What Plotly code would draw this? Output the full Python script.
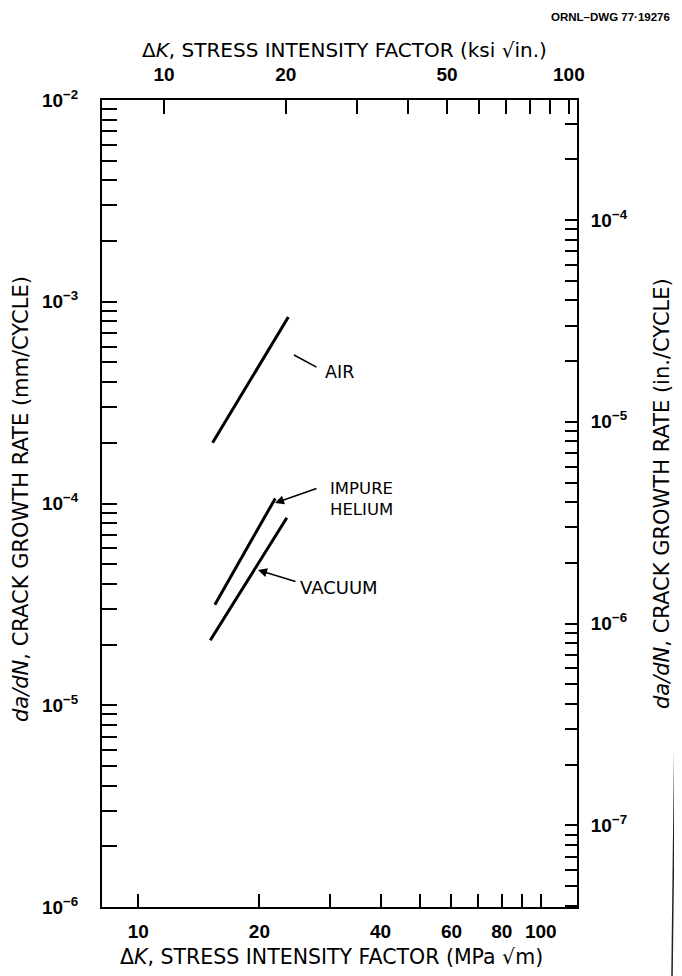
import plotly.graph_objects as go

# ---------------- data ----------------
dk_air = [15.3, 23.6]          # MPa*sqrt(m)
rate_air = [2.0e-4, 8.4e-4]    # mm/cycle
dk_helium = [15.5, 21.9]
rate_helium = [3.15e-5, 1.06e-4]
dk_vacuum = [15.1, 23.4]
rate_vacuum = [2.1e-5, 8.5e-5]

# tick values / labels
x_bottom_ticks = [10, 20, 30, 40, 50, 60, 70, 80, 90, 100]
x_bottom_labels = ["10", "20", "", "40", "", "60", "", "80", "", "100"]
x_top_ticks = [10, 20, 30, 40, 50, 60, 70, 80, 90, 100]
x_top_labels = ["10", "20", "", "", "50", "", "", "", "", "100"]
y_left_decades = [-6, -5, -4, -3, -2]
y_right_decades = [-8, -7, -6, -5, -4, -3]

# ---------------- layout geometry (page pixels) ----------------
OFF = 8                     # default body margin of the html page
PW, PH = 682, 976
W, H = PW - OFF, PH - OFF
L, R, T, B = 102, 577, 100, 907   # plot area in page pixels
FONT = "Liberation Sans, Arial, Helvetica, sans-serif"
TFONT = "DejaVu Sans, Liberation Sans, sans-serif"


def fx(px):
    return (px - L) / (R - L)


def fy(py):
    return (B - py) / (B - T)


def log_ticks(decades):
    vals, text = [], []
    for d in decades:
        for m in range(1, 10):
            vals.append(m * 10.0 ** d)
            text.append("10<sup>\u2212%d</sup>" % (-d) if m == 1 else "")
    return vals, text


yl_vals, yl_text = log_ticks(y_left_decades)
yr_vals, yr_text = log_ticks(y_right_decades)

fig = go.Figure()
line_style = dict(color="black", width=3)
fig.add_trace(go.Scatter(x=dk_air, y=rate_air, mode="lines", line=line_style, name="AIR"))
fig.add_trace(go.Scatter(x=dk_helium, y=rate_helium, mode="lines", line=line_style, name="IMPURE HELIUM"))
fig.add_trace(go.Scatter(x=dk_vacuum, y=rate_vacuum, mode="lines", line=line_style, name="VACUUM"))
# invisible trace to create the secondary (ksi / in.) axes
fig.add_trace(go.Scatter(x=[], y=[], xaxis="x2", yaxis="y2", showlegend=False))

tickfont = dict(family=FONT, size=19, color="black", weight="bold")
common = dict(type="log", showgrid=False, zeroline=False, showline=True,
              linecolor="black", linewidth=2, ticks="inside", tickcolor="black",
              tickwidth=1.5, tickfont=tickfont)

fig.update_layout(
    width=W, height=H,
    margin=dict(l=L - OFF, r=PW - R, t=T - OFF, b=PH - B, pad=0),
    paper_bgcolor="white", plot_bgcolor="white",
    showlegend=False,
    xaxis=dict(**common, range=[0.910, 2.090], tickvals=x_bottom_ticks,
               ticktext=x_bottom_labels, ticklen=13, ticklabelstandoff=6),
    xaxis2=dict(**common, range=[0.847, 2.020], tickvals=x_top_ticks,
                ticktext=x_top_labels, ticklen=14, side="top",
                overlaying="x", anchor="y", ticklabelstandoff=9),
    yaxis=dict(**common, range=[-6, -2], tickvals=yl_vals, ticktext=yl_text,
               ticklen=15, ticklabelstandoff=18),
    yaxis2=dict(**common, range=[-7.405, -3.405], tickvals=yr_vals, ticktext=yr_text,
                ticklen=12, side="right", overlaying="y", anchor="x",
                ticklabelstandoff=8),
)

ann = []


def text(px, py, s, size=15, xanchor="center", textangle=0, family=FONT, weight="normal"):
    ann.append(dict(x=fx(px), y=fy(py), xref="paper", yref="paper", text=s,
                    showarrow=False, xanchor=xanchor, yanchor="middle",
                    textangle=textangle, align="left",
                    font=dict(family=family, size=size, color="black", weight=weight)))


text(672, 17, "ORNL\u2013DWG 77\u00b719276", size=11.5, xanchor="right", weight="bold")
text(344, 50, "\u0394<i>K</i>, STRESS INTENSITY FACTOR (ksi \u221ain.)", size=20, family=TFONT)
text(331, 957, "\u0394<i>K</i>, STRESS INTENSITY FACTOR (MPa \u221am)", size=20.5, family=TFONT)
text(21, 499, "<i>da/dN</i>, CRACK GROWTH RATE (mm/CYCLE)", size=21, textangle=-90, family=TFONT)
text(662, 494, "<i>da/dN</i>, CRACK GROWTH RATE (in./CYCLE)", size=21, textangle=-90, family=TFONT)

text(323, 372, "AIR", size=17.5, xanchor="left", family=TFONT)
text(328, 499, "IMPURE<br>HELIUM", size=16.5, xanchor="left", family=TFONT)
text(298, 587, "VACUUM", size=18, xanchor="left", family=TFONT)


# leader lines / arrows (head at (hx,hy), tail at (tx,ty), in page pixels)
def arrow(hx, hy, tx, ty, head=True):
    ann.append(dict(x=fx(hx), y=fy(hy), xref="paper", yref="paper",
                    ax=tx - hx, ay=ty - hy, axref="pixel", ayref="pixel",
                    text="", showarrow=True, arrowhead=2 if head else 0,
                    arrowsize=1.2, arrowwidth=1.5, arrowcolor="black",
                    standoff=0, startstandoff=0))


arrow(294, 355, 318, 368, head=False)
arrow(275, 503, 318, 488)
arrow(258, 570, 297, 582)

fig.update_layout(annotations=ann)

# scanned page edge line at the far right
fig.add_shape(type="line", xref="paper", yref="paper",
              x0=fx(677), y0=fy(565), x1=fx(672), y1=fy(976),
              line=dict(color="#222", width=1.5))

fig.write_html("out.html")
